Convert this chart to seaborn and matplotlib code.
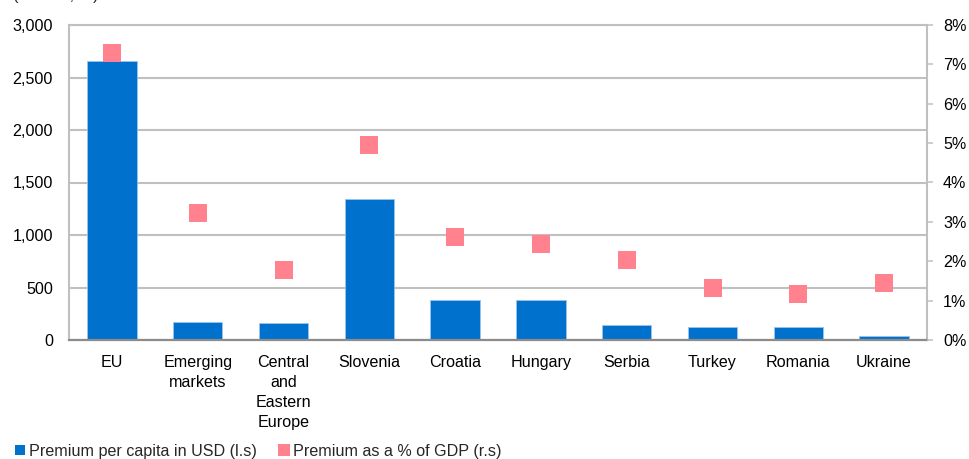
import numpy as np
import matplotlib
matplotlib.use("Agg")
import matplotlib.pyplot as plt
import seaborn as sns
from matplotlib.patches import Patch
from matplotlib.lines import Line2D
from matplotlib.ticker import FuncFormatter

categories = ["EU", "Emerging\nmarkets", "Central\nand\nEastern\nEurope", "Slovenia",
              "Croatia", "Hungary", "Serbia", "Turkey", "Romania", "Ukraine"]
premium_usd = [2660, 175, 160, 1340, 380, 385, 140, 122, 120, 38]
premium_gdp = [7.3, 3.23, 1.79, 4.95, 2.62, 2.45, 2.04, 1.33, 1.16, 1.44]
left_ticks = [0, 500, 1000, 1500, 2000, 2500, 3000]
right_ticks = [0, 1, 2, 3, 4, 5, 6, 7, 8]
legend_labels = ["Premium per capita in USD (l.s)", "Premium as a % of GDP (r.s)"]

BLUE = "#0072CE"
PINK = "#FF828E"
GRID = "#C0C0C0"
FS = 11.6

sns.set_theme(style="white")
plt.rcParams["font.family"] = ["Liberation Sans", "DejaVu Sans"]
plt.rcParams["font.size"] = FS

fig = plt.figure(figsize=(9.69, 4.59), dpi=100)
ax = fig.add_axes([69/969, 1 - 340/459, (927 - 69)/969, (340 - 25)/459])

pos = np.arange(len(categories))
sns.barplot(x=pos, y=premium_usd, ax=ax, color=BLUE, width=0.575, saturation=1,
            edgecolor="#9CC3EA", linewidth=0.6)
ax.set_ylim(0, 3000)
ax.set_xlim(-0.5, len(categories) - 0.5)
ax.set_yticks(left_ticks)
ax.yaxis.set_major_formatter(FuncFormatter(lambda v, p: f"{int(v):,}"))
ax.set_xticks(pos)
ax.set_xticklabels(categories, linespacing=1.42, fontsize=FS)
ax.tick_params(axis="y", length=0, pad=11.5, labelsize=FS, colors="black")
ax.tick_params(axis="x", length=0, pad=10.5, labelsize=FS, colors="black")
ax.yaxis.grid(True, color=GRID, linewidth=1.5)
ax.set_axisbelow(True)
for s in ["left", "top", "right"]:
    ax.spines[s].set_color(GRID)
    ax.spines[s].set_linewidth(1.5)
ax.spines["bottom"].set_color("#8C8C8C")
ax.spines["bottom"].set_linewidth(1.6)
ax.set_xlabel("")
ax.set_ylabel("")

ax2 = ax.twinx()
sns.scatterplot(x=pos, y=premium_gdp, ax=ax2, marker="s", s=150, color=PINK,
                linewidth=0, zorder=5)
ax2.set_ylim(0, 8)
ax2.set_yticks(right_ticks)
ax2.yaxis.set_major_formatter(FuncFormatter(lambda v, p: f"{int(v)}%"))
ax2.tick_params(axis="y", length=4.5, width=1.1, pad=7, labelsize=FS,
                colors="black")
ax2.tick_params(axis="y", which="both", color=GRID)
for s in ["left", "top", "right", "bottom"]:
    ax2.spines[s].set_visible(False)
ax2.grid(False)
ax2.set_xlim(-0.5, len(categories) - 0.5)
ax.set_xlim(-0.5, len(categories) - 0.5)

handles = [Patch(facecolor=BLUE, edgecolor="none"),
           Line2D([], [], marker="s", linestyle="none", markersize=9,
                  markerfacecolor=PINK, markeredgewidth=0)]
fig.legend(handles, legend_labels, loc="lower left", bbox_to_anchor=(0.006, -0.02),
           ncol=2, frameon=False, fontsize=FS, handlelength=0.6, handleheight=0.6,
           handletextpad=0.25, columnspacing=1.4, borderaxespad=0.2)

fig.text(13/969, 1.0, "(in USD, %)", va="baseline", ha="left", fontsize=FS)

fig.savefig("out.png", dpi=100)
